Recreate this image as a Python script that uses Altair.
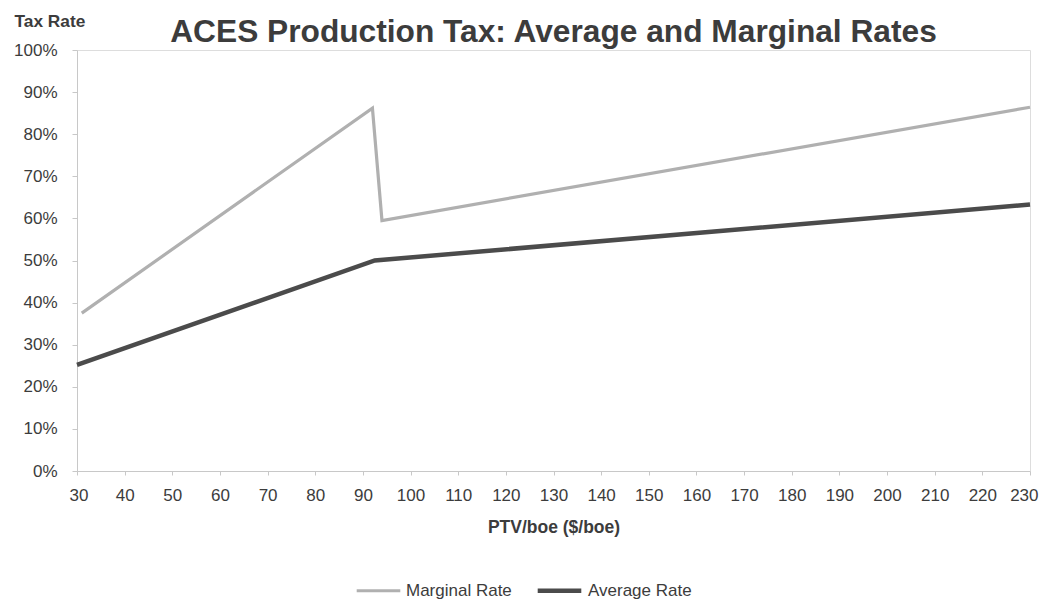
import altair as alt
import pandas as pd

# Data
marg_x = [31, 92, 94, 230]
marg_y = [0.375, 0.862, 0.595, 0.864]
avg_x = [30, 92.5, 230]
avg_y = [0.252, 0.50, 0.633]
x_ticks = list(range(30, 231, 10))
y_ticks = [i / 10 for i in range(0, 11)]

rows = []
for i, (x, y) in enumerate(zip(marg_x, marg_y)):
    rows.append({"ptv": x, "rate": y, "series": "Marginal Rate", "o": i})
for i, (x, y) in enumerate(zip(avg_x, avg_y)):
    rows.append({"ptv": x, "rate": y, "series": "Average Rate", "o": i})
df = pd.DataFrame(rows)

series = ["Marginal Rate", "Average Rate"]
TXT = "#3c3c3c"
BOLD = "Liberation Sans, Arial"
REG = "Liberation Sans, Arial"

legend_cfg = dict(
    title=None,
    orient="none",
    direction="horizontal",
    legendX=278,
    legendY=516,
    symbolType="stroke",
    symbolSize=1900,
    labelFont=REG,
    labelFontSize=17,
    labelColor=TXT,
    labelOffset=4,
    columnPadding=16,
)

chart = (
    alt.Chart(df)
    .mark_line(strokeCap="butt", strokeJoin="miter")
    .encode(
        x=alt.X(
            "ptv:Q",
            scale=alt.Scale(domain=[30, 230], nice=False, zero=False),
            axis=alt.Axis(
                values=x_ticks,
                title="PTV/boe ($/boe)",
                titleFont=BOLD,
                titleFontSize=17.5,
                titleFontWeight="bold",
                titleColor=TXT,
                titlePadding=15,
                labelFont=REG,
                labelFontSize=17,
                labelColor=TXT,
                labelPadding=12,
                labelFlush=True,
                labelFlushOffset=8,
                tickSize=4,
                tickColor="#c8c8c8",
                domainColor="#c8c8c8",
                grid=False,
            ),
        ),
        y=alt.Y(
            "rate:Q",
            scale=alt.Scale(domain=[0, 1], nice=False),
            axis=alt.Axis(
                values=y_ticks,
                format=".0%",
                title="Tax Rate",
                titleAngle=0,
                titleAlign="left",
                titleBaseline="alphabetic",
                titleX=-63,
                titleY=-24,
                titleFont=BOLD,
                titleFontSize=17.3,
                titleFontWeight="bold",
                titleColor=TXT,
                labelFont=REG,
                labelFontSize=17,
                labelColor=TXT,
                labelPadding=15,
                tickSize=5,
                tickColor="#c8c8c8",
                domainColor="#c8c8c8",
                grid=False,
            ),
        ),
        color=alt.Color(
            "series:N",
            scale=alt.Scale(domain=series, range=["#b0b0b0", "#4b4b4b"]),
            legend=alt.Legend(**legend_cfg),
        ),
        strokeWidth=alt.StrokeWidth(
            "series:N",
            scale=alt.Scale(domain=series, range=[3.2, 4.5]),
            legend=alt.Legend(**legend_cfg),
        ),
        detail="series:N",
        order="o:Q",
    )
    .properties(
        width=953,
        height=421,
        title=alt.TitleParams(
            "ACES Production Tax: Average and Marginal Rates",
            font=BOLD,
            fontSize=31.7,
            fontWeight="bold",
            color=TXT,
            anchor="middle",
            offset=0,
            baseline="alphabetic",
            dy=62,
        ),
        autosize=alt.AutoSizeParams(type="none"),
        padding={"left": 69, "top": 42, "right": 10, "bottom": 132},
    )
    .configure_view(stroke=None)
    .configure(background="white")
)

chart.save("out.html", embed_options={"renderer": "svg", "actions": False})
